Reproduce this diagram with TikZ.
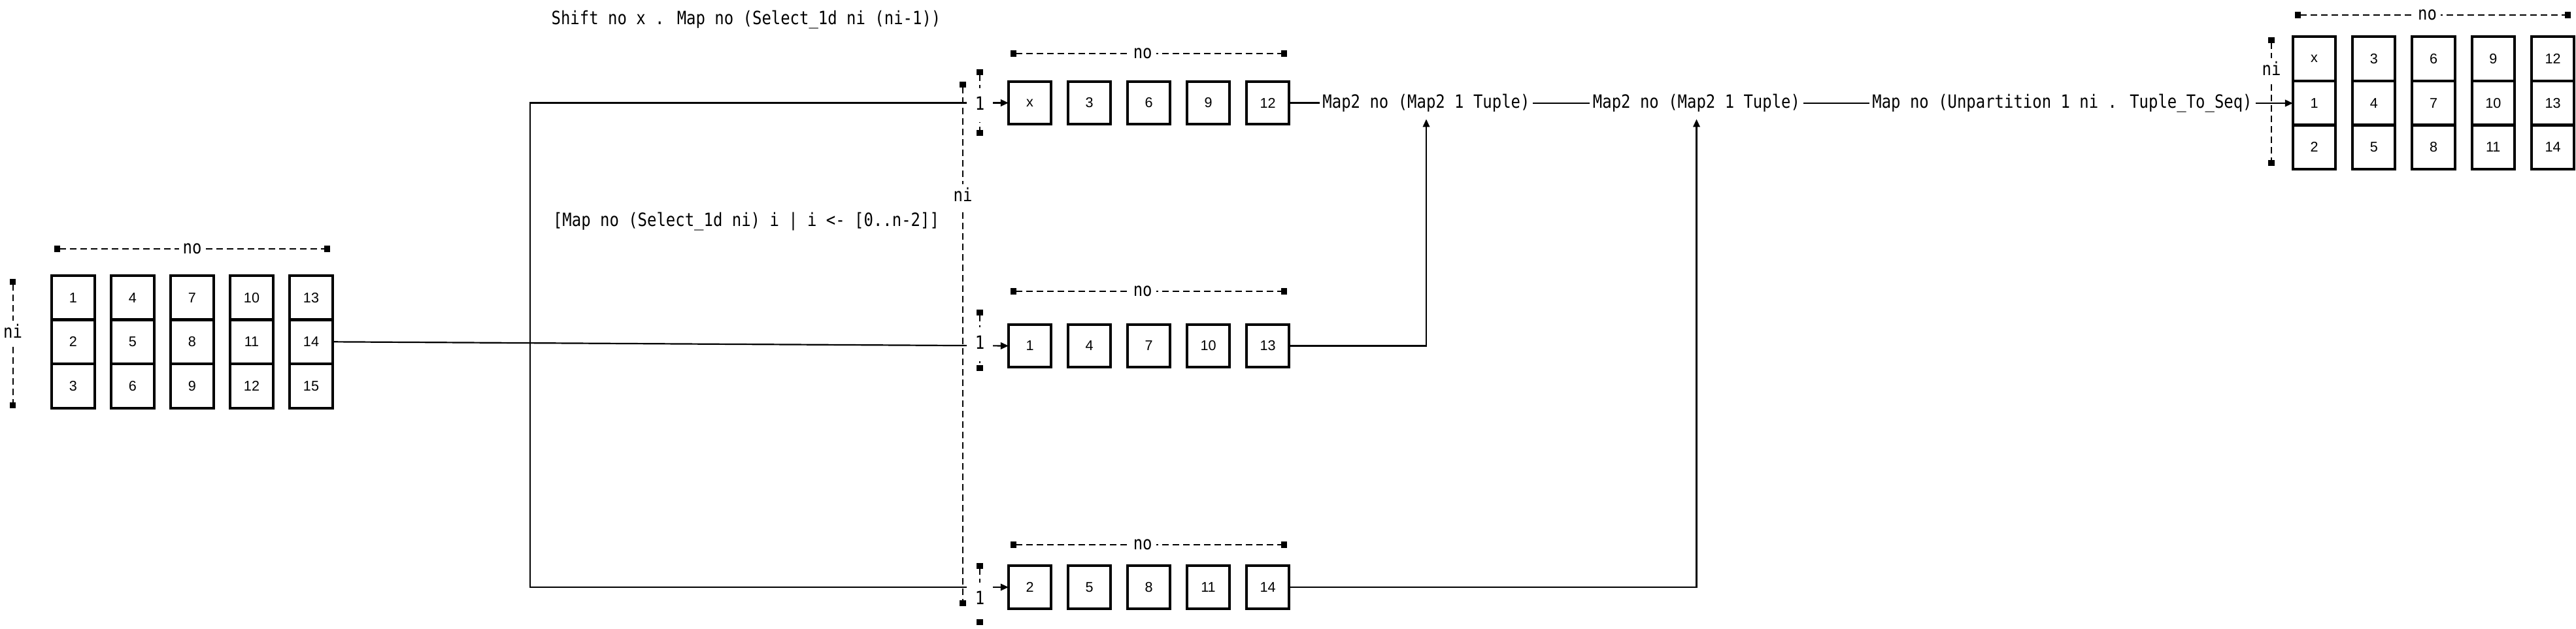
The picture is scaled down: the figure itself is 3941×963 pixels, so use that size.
\documentclass[tikz,border=0pt]{standalone}
\usepackage{fontspec}
\setmainfont{Liberation Sans}
\newfontfamily\codefont[FakeStretch=0.855]{DejaVu Sans Mono}
\usetikzlibrary{arrows.meta,calc}
\begin{document}
\begin{tikzpicture}[x=0.25pt,y=-0.25pt,
  cell/.style={draw,line width=1pt,minimum width=16.3pt,minimum height=16.3pt,inner sep=0pt,outer sep=0pt,font=\fontsize{5.4}{6}\selectfont},
  code/.style={font=\codefont\fontsize{7}{8}\selectfont,text height=5.2pt,text depth=1.6pt,inner xsep=1pt,inner ysep=2.5pt},
  dimline/.style={line width=0.55pt,dash pattern=on 2.4pt off 1.6pt,{Square[length=2.3pt,width=2.3pt]}-{Square[length=2.3pt,width=2.3pt]}},
  dimlabel/.style={fill=white,inner xsep=1.5pt,inner ysep=1.5pt,text height=5.2pt,text depth=1.6pt,font=\codefont\fontsize{7}{8}\selectfont},
  onelabel/.style={fill=white,inner xsep=3.2pt,inner ysep=3pt,text height=5.2pt,text depth=1.6pt,font=\codefont\fontsize{7}{8}\selectfont},
  conn/.style={line width=0.55pt},
  arr/.style={conn,-{Triangle[length=3pt,width=2.6pt]}},
]
\useasboundingbox (0,0) rectangle (3941,963);

% left input grid
\foreach \i in {0,...,4}{
  \foreach \j in {0,1,2}{
    \pgfmathtruncatemacro\v{3*\i+\j+1}
    \node[cell,minimum width=16.5pt,minimum height=16.9pt] (L\i\j) at ({112+91*\i},{455.6+67.7*\j}) {\v};
  }
}

% middle rows
\foreach \v [count=\i from 0] in {x,3,6,9,12}
  \node[cell] (T\i) at ({1575.5+91*\i},157.5) {\v};
\foreach \v [count=\i from 0] in {1,4,7,10,13}
  \node[cell] (M\i) at ({1575.5+91*\i},529.5) {\v};
\foreach \v [count=\i from 0] in {2,5,8,11,14}
  \node[cell] (B\i) at ({1575.5+91*\i},899) {\v};

% right output grid
\foreach \v [count=\i from 0] in {x,3,6,9,12}
  \node[cell,minimum height=16.9pt] (R\i0) at ({3540.5+91.25*\i},90) {\v};
\foreach \v [count=\i from 0] in {1,4,7,10,13}
  \node[cell,minimum height=16.9pt] (R\i1) at ({3540.5+91.25*\i},157.7) {\v};
\foreach \v [count=\i from 0] in {2,5,8,11,14}
  \node[cell,minimum height=16.9pt] (R\i2) at ({3540.5+91.25*\i},225.4) {\v};

% code texts
\node[code,anchor=base] (shift) at (1141.5,38) {Shift no x . Map no (Select\_1d ni (ni-1))};
\node[code,anchor=base] (mapsel) at (1141.5,346) {[Map no (Select\_1d ni) i | i <- [0..n-2]]};
\node[code] (m1) at (2182,158) {Map2 no (Map2 1 Tuple)};
\node[code] (m2) at (2595.5,158) {Map2 no (Map2 1 Tuple)};
\node[code] (m3) at (3155,158) {Map no (Unpartition 1 ni . Tuple\_To\_Seq)};

% connectors
\coordinate (bx) at (811,525);
\draw[arr] (L41.east) -- (M0.west);
\draw[arr] (bx) |- (T0.west);
\draw[arr] (bx) |- (B0.west);
\draw[conn] (T4.east) -- (T4.east -| m1.west);
\draw[conn] (m1.east) -- (m2.west);
\draw[conn] (m2.east) -- (m3.west);
\draw[arr] (m3.east) -- (m3.east -| R01.west);
\draw[arr] (M4.east) -| (m1.south);
\draw[arr] (B4.east) -| (m2.south);

% dimension lines
\draw[dimline] (83,381) -- node[dimlabel]{no} (505,381);
\draw[dimline] (19.6,427) -- node[dimlabel,pos=0.42]{ni} (19.6,625);

\draw[dimline] (1546,82) -- node[dimlabel,pos=0.478]{no} (1969,82);
\draw[dimline] (1546,446) -- node[dimlabel,pos=0.478]{no} (1969,446);
\draw[dimline] (1546,834) -- node[dimlabel,pos=0.478]{no} (1969,834);

\draw[dimline] (1473,125) -- node[dimlabel,pos=0.22]{ni} (1473,928);

\draw[dimline] (1499,106) -- (1499,208);
\node[onelabel] (one1) at (1499,161) {1};
\draw[dimline] (1499,474) -- (1499,568);
\node[onelabel] (one2) at (1499,527) {1};
\draw[dimline] (1499,862) -- (1499,957);
\node[onelabel] (one3) at (1499,918) {1};

\draw[dimline] (3511,23) -- node[dimlabel,pos=0.48]{no} (3933,23);
\draw[dimline] (3475,57) -- node[dimlabel,pos=0.26]{ni} (3475,254);
\end{tikzpicture}
\end{document}
